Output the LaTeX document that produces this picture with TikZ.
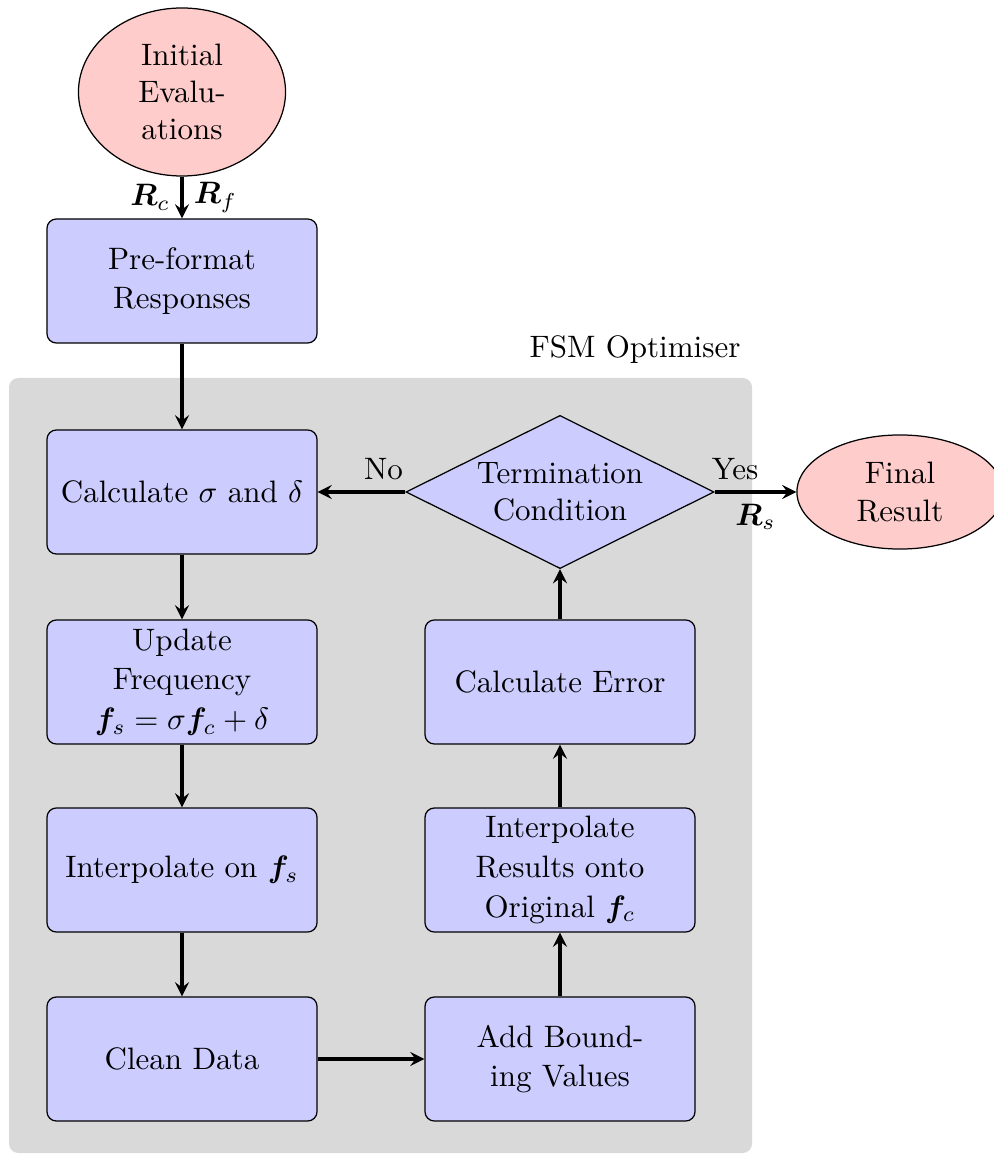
\documentclass[tikz,border=0pt]{standalone}
\usepackage{amsmath,bm}
\usetikzlibrary{shapes.geometric}

\tikzset{
  procbox/.style={draw, rectangle, rounded corners=3pt, fill=blue!20,
    minimum width=87.1pt, minimum height=40pt, align=center, inner sep=2pt,
    font=\fontsize{10}{12.8}\selectfont},
  termnode/.style={draw, ellipse, fill=red!20, align=center, inner sep=1pt},
  decision/.style={draw, diamond, fill=blue!20, align=center, aspect=2,
    inner sep=0pt, minimum width=99.4pt, minimum height=49.4pt},
  flow/.style={line width=1pt, -stealth},
  panel/.style={fill=gray!30, rounded corners=3pt}
}

\begin{document}
\begin{tikzpicture}[x={(0.32258pt,0)}, y={(0,-0.32258pt)}]
  \useasboundingbox (0,0) rectangle (993,1154);

  % optimiser panel
  \fill[panel] (9,378) rectangle (752,1153);
  \node (fsm) at (635,350) {FSM Optimiser};

  % nodes
  \node[termnode, minimum width=66.8pt, minimum height=54.2pt] (init) at (182,92) {Initial\\Evalu-\\ations};
  \node[procbox] (pre) at (182,281) {Pre-format\\Responses};
  \node[procbox] (calc) at (182,492) {Calculate $\sigma$ and $\delta$};
  \node[procbox] (upd) at (182,682) {Update\\Frequency\\$\bm{f}_s = \sigma\bm{f}_c + \delta$};
  \node[procbox] (interp) at (182,870) {Interpolate on $\bm{f}_s$};
  \node[procbox] (clean) at (182,1059) {Clean Data};
  \node[procbox] (bound) at (560,1059) {Add Bound-\\ing Values};
  \node[procbox] (back) at (560,870) {Interpolate\\Results onto\\Original $\bm{f}_c$};
  \node[procbox] (err) at (560,682) {Calculate Error};
  \node[decision] (term) at (560,492) {Termination\\Condition};
  \node[termnode, minimum width=66.5pt, minimum height=36.8pt] (final) at (900,492) {Final\\Result};

  % connectors
  \draw[flow] (init) -- node[left]{$\bm{R}_c$} node[right]{$\bm{R}_f$} (pre);
  \draw[flow] (pre) -- (calc);
  \draw[flow] (calc) -- (upd);
  \draw[flow] (upd) -- (interp);
  \draw[flow] (interp) -- (clean);
  \draw[flow] (clean) -- (bound);
  \draw[flow] (bound) -- (back);
  \draw[flow] (back) -- (err);
  \draw[flow] (err) -- (term);
  \draw[flow] (term) -- node[pos=0.25, above]{No} (calc);
  \draw[flow] (term) -- node[pos=0.25, above]{Yes} node[pos=0.5, below]{$\bm{R}_s$} (final);
\end{tikzpicture}
\end{document}
